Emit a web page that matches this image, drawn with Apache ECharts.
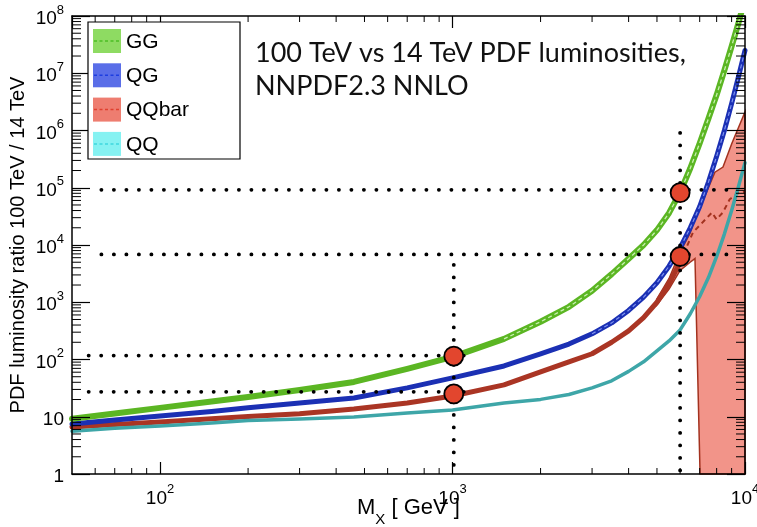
<!DOCTYPE html>
<html lang="en">
<head>
<meta charset="UTF-8">
<title>100 TeV vs 14 TeV PDF luminosities</title>
<script src="https://cdn.jsdelivr.net/npm/echarts@6/dist/echarts.min.js"></script>
<style>html, body { margin: 0; padding: 0; background: #fff; }</style>
</head>
<body>
<div id="main" style="width: 757px;height: 527px;"></div>
<script>
// mass points (GeV) and luminosity ratios
var massGeV = [50, 70, 100, 150, 200, 300, 460, 700, 1000, 1500, 2000, 2500, 3000, 3500,
  4000, 4500, 5000, 5500, 6000, 6500, 7000, 7500, 8000, 8500, 9000, 9500, 10000];
var ggRatio = [9.2, 11.4, 14.3, 18.4, 22.2, 29.4, 40.6, 68.5, 111, 229, 457, 832, 1585, 3100,
  5750, 10000, 18200, 36300, 83000, 219000, 600000, 1.62e6, 4.2e6, 1.12e7, 2.95e7, 7.6e7, 2.0e8];
var qgRatio = [7.5, 8.8, 10.3, 12.4, 14.3, 17.4, 21.3, 31.9, 47.7, 77, 125, 186, 281, 436,
  720, 1230, 2190, 4270, 8900, 20000, 47000, 126000, 355000, 1.0e6, 2.95e6, 8.7e6, 2.5e7];
var qqRatio = [5.6, 6.3, 6.9, 7.8, 8.6, 9.1, 9.9, 11.6, 13.1, 17.4, 20.1, 24.5, 31.9, 42.5,
  62, 91, 141, 211, 329, 630, 1260, 2700, 6300, 15500, 40000, 105000, 275000];
// QQbar: solid central line up to 6 TeV, then dashed inside the wide band
var qqbarMass = [50, 70, 100, 150, 200, 300, 460, 700, 1000, 1500, 2000, 2500, 3000, 3500,
  4000, 4500, 5000, 5500, 6000];
var qqbarRatio = [6.6, 7.3, 8.1, 9.2, 10.1, 11.3, 13.7, 17.4, 23.1, 36, 60.7, 90.8, 126, 200,
  316, 537, 1000, 2090, 5000];
var qqbarTailMass = [6000, 6640, 7000, 7710, 7990, 8400, 8870, 9570, 10000];
var qqbarTailRatio = [5000, 16600, 22000, 37000, 28000, 37000, 63000, 83000, 85000];
var bandMass = [5000, 5500, 6000, 6490, 6745, 7020, 7890, 8410, 9000, 10000];
var bandUpper = [1150, 2600, 7500, 16000, 30000, 45000, 187000, 230000, 580000, 2.1e6];
var bandLower = [900, 1700, 3600, 5000, 5800, 1, 1, 1, 1, 1];

// dotted guide lines and the four marked points
var hLineRatio = [92000, 6840, 117, 27.3];
var hLineFrom = [63, 63, 57, 57];
var hLineTo = [9150, 9150, 1170, 1170];
var vLineMass = [1010, 6000];
var vLineTop = [4500, 910000];
var markMass = [1010, 1010, 6000, 6000];
var markRatio = [115, 25, 82000, 6300];

var legendNames = ['GG', 'QG', 'QQbar', 'QQ'];
var legendFill = ['#8edb62', '#5a6ee8', '#ee7d70', '#86f2f2'];
var legendDash = ['#4cbf25', '#1d3de0', '#e0402f', '#3fd8de'];

var chartDom = document.getElementById('main');
var myChart = echarts.init(chartDom);

function pairs(xs, ys) {
  return xs.map(function (x, i) { return [x, ys[i]]; });
}

function powLabel(v) {
  var l = Math.log10(v);
  var e = Math.round(l);
  if (Math.abs(l - e) > 1e-6) return '';
  if (e === 0) return '{b|1}';
  if (e === 1) return '{b|10}';
  return '{b|10}{s|' + e + '}';
}

var tickRich = {
  b: { fontFamily: 'Liberation Sans', fontSize: 19, lineHeight: 25, verticalAlign: 'bottom', color: '#000' },
  s: { fontFamily: 'Liberation Sans', fontSize: 13, lineHeight: 13, verticalAlign: 'top', color: '#000' }
};
var frameLine = { lineStyle: { color: '#000', width: 1.5 } };

var series = [];

// QQbar uncertainty band
series.push({
  type: 'custom',
  silent: true,
  z: 2,
  data: [[bandMass[0], bandUpper[0]]],
  renderItem: function (params, api) {
    var pts = [];
    for (var i = 0; i < bandMass.length; i++) pts.push(api.coord([bandMass[i], bandUpper[i]]));
    for (var j = bandMass.length - 1; j >= 0; j--) pts.push(api.coord([bandMass[j], bandLower[j]]));
    return {
      type: 'polygon',
      shape: { points: pts },
      style: { fill: 'rgba(238,118,104,0.78)', stroke: '#a3321f', lineWidth: 1.5 }
    };
  }
});

function curve(name, data, color, width, extra) {
  var s = {
    type: 'line', name: name, data: data, showSymbol: false, symbol: 'none',
    smooth: false, silent: true, z: 3,
    lineStyle: { color: color, width: width, cap: 'round', join: 'round' }
  };
  return Object.assign(s, extra || {});
}

series.push(curve('QQbar', pairs(qqbarMass, qqbarRatio), '#aa3524', 5));
series.push(curve('', pairs(qqbarTailMass, qqbarTailRatio), '#a3321f', 2,
  { lineStyle: { color: '#a3321f', width: 2, type: [5, 4] } }));
series.push(curve('QQ', pairs(massGeV, qqRatio), '#3ea6a8', 3.5));
series.push(curve('QG', pairs(massGeV, qgRatio), '#1b30b4', 5));
series.push(curve('', pairs(massGeV.slice(12), qgRatio.slice(12)), '#7f93f0', 1.2,
  { lineStyle: { color: '#7f93f0', width: 1.2, type: [4, 3] } }));
series.push(curve('GG', pairs(massGeV, ggRatio), '#5bb623', 6));
series.push(curve('', pairs(massGeV.slice(9), ggRatio.slice(9)), '#c8f0b0', 1.3,
  { lineStyle: { color: '#c8f0b0', width: 1.3, type: [4, 3] } }));

var dotStyle = { color: '#000', width: 3.8, type: [0.1, 12.4], cap: 'round' };
hLineRatio.forEach(function (r, i) {
  series.push({ type: 'line', silent: true, symbol: 'none', z: 4, lineStyle: dotStyle,
    data: [[hLineFrom[i], r], [hLineTo[i], r]] });
});
vLineMass.forEach(function (m, i) {
  series.push({ type: 'line', silent: true, symbol: 'none', z: 4, lineStyle: dotStyle,
    data: [[m, vLineTop[i]], [m, 1]] });
});

series.push({
  type: 'scatter', silent: true, z: 5, symbolSize: 19,
  data: pairs(markMass, markRatio),
  itemStyle: { color: '#e2462e', borderColor: '#000', borderWidth: 1.8, opacity: 1 }
});

// minor log ticks on all four sides
series.push({
  type: 'custom', silent: true, z: 12, clip: false,
  data: [[50, 1]],
  renderItem: function (params, api) {
    var kids = [];
    var st = { stroke: '#000', lineWidth: 1 };
    for (var e = 1; e < 4; e++) {
      for (var k = 2; k <= 9; k++) {
        var m = k * Math.pow(10, e);
        if (m <= 50 || m >= 10000) continue;
        var b = api.coord([m, 1]), t = api.coord([m, 1e8]);
        kids.push({ type: 'line', shape: { x1: b[0], y1: b[1], x2: b[0], y2: b[1] - 6 }, style: st });
        kids.push({ type: 'line', shape: { x1: t[0], y1: t[1], x2: t[0], y2: t[1] + 6 }, style: st });
      }
    }
    for (var p = 0; p < 8; p++) {
      for (var q = 2; q <= 9; q++) {
        var r = q * Math.pow(10, p);
        var l = api.coord([50, r]), rt = api.coord([10000, r]);
        kids.push({ type: 'line', shape: { x1: l[0], y1: l[1], x2: l[0] + 9, y2: l[1] }, style: st });
        kids.push({ type: 'line', shape: { x1: rt[0], y1: rt[1], x2: rt[0] - 9, y2: rt[1] }, style: st });
      }
    }
    return { type: 'group', children: kids };
  }
});

// legend box
var graphics = [{
  type: 'rect', z: 20,
  shape: { x: 88, y: 22, width: 152, height: 137 },
  style: { fill: '#fff', stroke: '#000', lineWidth: 1.2 }
}];
legendNames.forEach(function (n, i) {
  var y0 = 29 + i * 34.3;
  graphics.push({ type: 'rect', z: 21, shape: { x: 93, y: y0, width: 28, height: 24 },
    style: { fill: legendFill[i] } });
  graphics.push({ type: 'line', z: 22, shape: { x1: 94, y1: y0 + 12, x2: 120, y2: y0 + 12 },
    style: { stroke: legendDash[i], lineWidth: 1.5, lineDash: [3, 2.5] } });
  graphics.push({ type: 'text', z: 22,
    style: { x: 126, y: y0 + 13, text: n, fontFamily: 'Liberation Sans', fontSize: 21,
      verticalAlign: 'middle', fill: '#000' } });
});

var option = {
  animation: false,
  backgroundColor: '#fff',
  title: {
    text: '100 TeV vs 14 TeV PDF luminosities,\nNNPDF2.3 NNLO',
    left: 255, top: 37, padding: 0,
    textStyle: { fontFamily: 'Lato', fontSize: 27, fontWeight: 'normal', color: '#111', lineHeight: 33 }
  },
  grid: { left: 72, right: 12, top: 16, bottom: 53, containLabel: false, outerBoundsMode: 'none' },
  xAxis: [{
    type: 'log', logBase: 10, min: 50, max: 10000, position: 'bottom', z: 10,
    axisLine: frameLine,
    axisTick: { inside: true, length: 12, lineStyle: { color: '#000', width: 1.2 } },
    axisLabel: { formatter: powLabel, margin: 9, rich: tickRich, showMinLabel: false },
    splitLine: { show: false },
    name: '{m|M}{x|X}{m| [ GeV ]}', nameLocation: 'middle', nameGap: 23, nameMoveOverlap: false,
    nameTextStyle: { rich: {
      m: { fontFamily: 'Liberation Sans', fontSize: 22, lineHeight: 30, verticalAlign: 'top', color: '#000' },
      x: { fontFamily: 'Liberation Sans', fontSize: 15, lineHeight: 15, verticalAlign: 'bottom', color: '#000' }
    } }
  }, {
    type: 'log', logBase: 10, min: 50, max: 10000, position: 'top', z: 10,
    axisLine: frameLine,
    axisTick: { inside: true, length: 12, lineStyle: { color: '#000', width: 1.2 } },
    axisLabel: { show: false }, splitLine: { show: false }
  }],
  yAxis: [{
    type: 'log', logBase: 10, min: 1, max: 1e8, position: 'left', z: 10,
    axisLine: frameLine,
    axisTick: { inside: true, length: 18, lineStyle: { color: '#000', width: 1.2 } },
    axisLabel: { formatter: powLabel, margin: 8, rich: tickRich },
    splitLine: { show: false },
    name: 'PDF luminosity ratio 100 TeV / 14 TeV', nameLocation: 'middle', nameRotate: 90, nameGap: 44,
    nameMoveOverlap: false,
    nameTextStyle: { fontFamily: 'Liberation Sans', fontSize: 20, color: '#000' }
  }, {
    type: 'log', logBase: 10, min: 1, max: 1e8, position: 'right', z: 10,
    axisLine: frameLine,
    axisTick: { inside: true, length: 18, lineStyle: { color: '#000', width: 1.2 } },
    axisLabel: { show: false }, splitLine: { show: false }
  }],
  graphic: graphics,
  series: series
};

myChart.setOption(option);
</script>
</body>
</html>
